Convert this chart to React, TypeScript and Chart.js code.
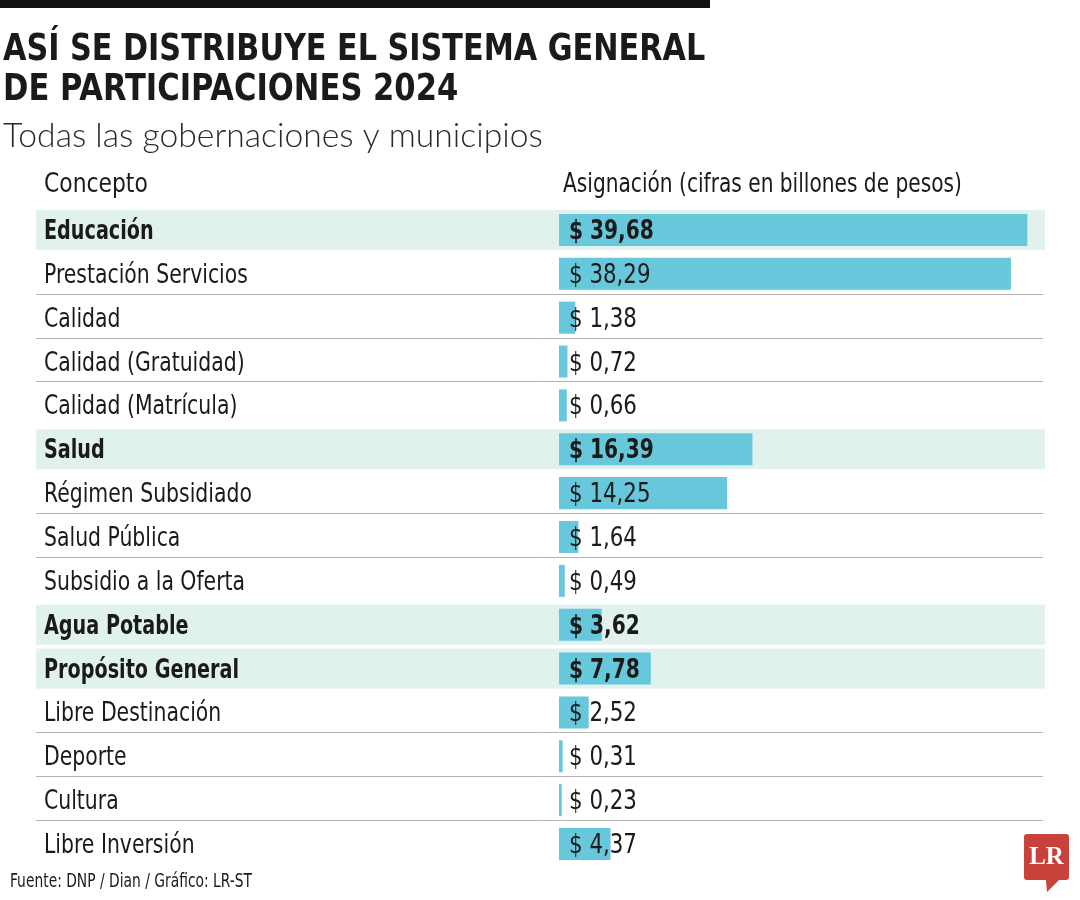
import React, { useEffect, useRef } from "react";
import { Chart, registerables } from "chart.js";

Chart.register(...registerables);

const categories = [
  "Educación",
  "Prestación Servicios",
  "Calidad",
  "Calidad (Gratuidad)",
  "Calidad (Matrícula)",
  "Salud",
  "Régimen Subsidiado",
  "Salud Pública",
  "Subsidio a la Oferta",
  "Agua Potable",
  "Propósito General",
  "Libre Destinación",
  "Deporte",
  "Cultura",
  "Libre Inversión",
];
const values = [39.68, 38.29, 1.38, 0.72, 0.66, 16.39, 14.25, 1.64, 0.49, 3.62, 7.78, 2.52, 0.31, 0.23, 4.37];
const highlighted = [true, false, false, false, false, true, false, false, false, true, true, false, false, false, false];
const valueLabels = values.map((v) => "$ " + v.toFixed(2).replace(".", ","));

const titleLines = ["ASÍ SE DISTRIBUYE EL SISTEMA GENERAL", "DE PARTICIPACIONES 2024"];
const subtitle = "Todas las gobernaciones y municipios";
const headerLeft = "Concepto";
const headerRight = "Asignación (cifras en billones de pesos)";
const footer = "Fuente: DNP / Dian / Gráfico: LR-ST";

const COND = '"Liberation Sans Narrow", "DejaVu Sans Condensed", "Arial Narrow", sans-serif';
const LIGHT = 'Lato, "Open Sans", sans-serif';
const BAR = "#67c8dc";
const BAND = "#e0f1ee";
const INK = "#1a1a1a";

function narrowText(ctx: CanvasRenderingContext2D, text: string, x: number, y: number, font: string, sx: number) {
  ctx.save();
  ctx.font = font;
  ctx.translate(x, y);
  ctx.scale(sx, 1);
  ctx.fillText(text, 0, 0);
  ctx.restore();
}

const decorPlugin = {
  id: "decor",
  beforeDraw(chart: any) {
    const ctx = chart.ctx;
    const y = chart.scales.y;
    ctx.save();
    ctx.fillStyle = "#ffffff";
    ctx.fillRect(0, 0, chart.width, chart.height);
    // top black rule
    ctx.fillStyle = "#111111";
    ctx.fillRect(0, 0, 710, 8);
    // title
    ctx.fillStyle = INK;
    ctx.textAlign = "left";
    ctx.textBaseline = "alphabetic";
    narrowText(ctx, titleLines[0], 3, 60, `bold 38px ${COND}`, 0.885);
    narrowText(ctx, titleLines[1], 3, 100, `bold 38px ${COND}`, 0.895);
    // subtitle
    ctx.fillStyle = "#2a2a2a";
    narrowText(ctx, subtitle, 3, 147, `300 33px ${LIGHT}`, 1.02);
    // header
    ctx.fillStyle = INK;
    ctx.textBaseline = "middle";
    narrowText(ctx, headerLeft, 44, 185, `27px ${COND}`, 0.9);
    narrowText(ctx, headerRight, 563, 185, `27px ${COND}`, 0.83);
    // footer
    narrowText(ctx, footer, 10, 882, `19px ${COND}`, 0.81);
    // logo
    ctx.fillStyle = "#c8413b";
    ctx.beginPath();
    const lx = 1024, ly = 834, lw = 45, lh = 46, r = 3;
    ctx.moveTo(lx + r, ly);
    ctx.lineTo(lx + lw - r, ly);
    ctx.quadraticCurveTo(lx + lw, ly, lx + lw, ly + r);
    ctx.lineTo(lx + lw, ly + lh - r);
    ctx.quadraticCurveTo(lx + lw, ly + lh, lx + lw - r, ly + lh);
    ctx.lineTo(1059, ly + lh);
    ctx.lineTo(1047, 892);
    ctx.lineTo(1046, ly + lh);
    ctx.lineTo(lx + r, ly + lh);
    ctx.quadraticCurveTo(lx, ly + lh, lx, ly + lh - r);
    ctx.lineTo(lx, ly + r);
    ctx.quadraticCurveTo(lx, ly, lx + r, ly);
    ctx.closePath();
    ctx.fill();
    ctx.fillStyle = "#ffffff";
    ctx.textAlign = "center";
    ctx.font = `bold 25px "Liberation Serif", "DejaVu Serif", serif`;
    ctx.fillText("LR", lx + lw / 2, ly + lh / 2 + 1);
    ctx.textAlign = "left";

    // row bands and separators
    const centers = categories.map((_, i) => y.getPixelForValue(i));
    centers.forEach((c: number, i: number) => {
      if (highlighted[i]) {
        ctx.fillStyle = BAND;
        ctx.fillRect(36, c - 20, 1045 - 36, 40);
      }
    });
    ctx.strokeStyle = "#b3b3b3";
    ctx.lineWidth = 1;
    for (let i = 0; i < centers.length - 1; i++) {
      if (!highlighted[i] && !highlighted[i + 1]) {
        const yy = Math.round((centers[i] + centers[i + 1]) / 2) - 1.5;
        ctx.beginPath();
        ctx.moveTo(36, yy);
        ctx.lineTo(1043, yy);
        ctx.stroke();
      }
    }
    // category labels
    ctx.fillStyle = INK;
    ctx.textBaseline = "middle";
    categories.forEach((t, i) => {
      const b = highlighted[i];
      narrowText(ctx, t, 44, centers[i] + 2, `${b ? "bold " : ""}27px ${COND}`, b ? 0.79 : 0.84);
    });
    ctx.restore();
  },
  afterDatasetsDraw(chart: any) {
    const ctx = chart.ctx;
    const y = chart.scales.y;
    ctx.save();
    ctx.fillStyle = INK;
    ctx.textAlign = "left";
    ctx.textBaseline = "middle";
    valueLabels.forEach((t, i) => {
      const b = highlighted[i];
      narrowText(ctx, t, chart.chartArea.left + 10, y.getPixelForValue(i) + 2, `${b ? "bold " : ""}27px ${COND}`, b ? 0.83 : 0.88);
    });
    ctx.restore();
  },
};

export default function App() {
  const ref = useRef<HTMLCanvasElement | null>(null);
  useEffect(() => {
    document.body.style.margin = "0";
    const chart = new Chart(ref.current as HTMLCanvasElement, {
      type: "bar",
      data: {
        labels: categories,
        datasets: [
          {
            data: values,
            backgroundColor: BAR,
            borderWidth: 0,
            barPercentage: 0.73,
            categoryPercentage: 1,
          },
        ],
      },
      options: {
        indexAxis: "y",
        responsive: false,
        animation: false,
        devicePixelRatio: 1,
        layout: { padding: { left: 559, right: 43, top: 208, bottom: 34 } },
        plugins: { legend: { display: false }, tooltip: { enabled: false }, title: { display: false } },
        scales: {
          x: { display: false, min: 0, max: 40.5 },
          y: { display: false },
        },
      },
      plugins: [decorPlugin],
    } as any);
    return () => chart.destroy();
  }, []);
  return (
    <div style={{ width: 1080, height: 900 }}>
      <canvas ref={ref} width={1080} height={900} />
    </div>
  );
}
